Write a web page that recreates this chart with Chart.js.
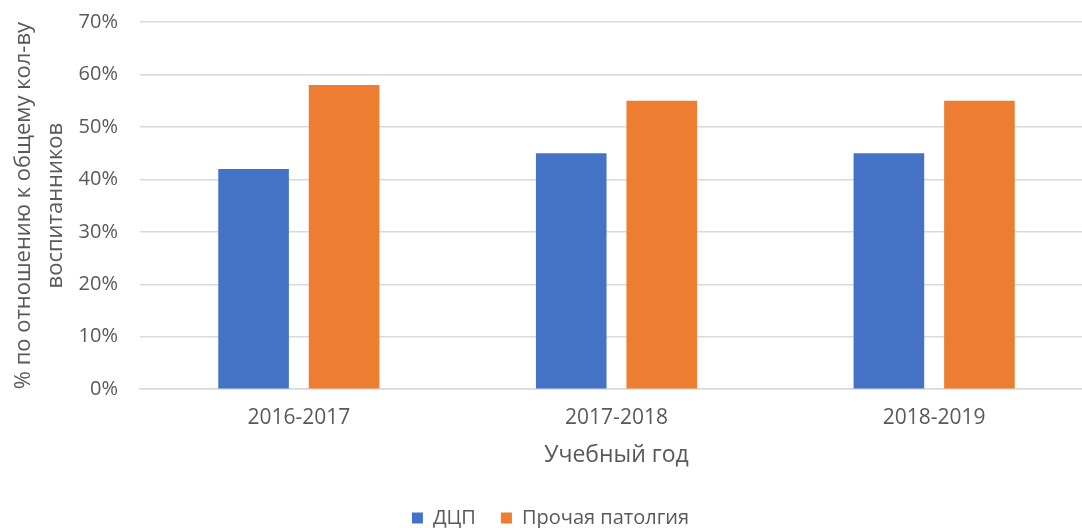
<!DOCTYPE html>
<html>
<head>
<meta charset="utf-8">
<script src="https://cdn.jsdelivr.net/npm/chart.js@4"></script>
<style>
  html, body { margin: 0; padding: 0; background: #fff; overflow: hidden; }
  #wrap { width: 1082px; height: 528px; overflow: hidden; }
</style>
</head>
<body>
<!-- the plot runs a little past the right edge, like in the original -->
<div id="wrap"><canvas id="chart" width="1093" height="528"></canvas></div>
<script>
// data
const years = ['2016-2017', '2017-2018', '2018-2019'];
const dcpValues = [42, 45, 45];
const otherValues = [58, 55, 55];
const yTicks = [0, 10, 20, 30, 40, 50, 60, 70];

const textColor = '#595959';
const fontFamily = '"Open Sans", "Noto Sans", sans-serif';

Chart.defaults.font.family = fontFamily;
Chart.defaults.color = textColor;

const ctx = document.getElementById('chart').getContext('2d');
const chart = new Chart(ctx, {
    type: 'bar',
    data: {
        labels: years,
        datasets: [
            { label: 'ДЦП', data: dcpValues, backgroundColor: '#4472c4' },
            { label: 'Прочая патолгия', data: otherValues, backgroundColor: '#ed7d31' }
        ]
    },
    options: {
        responsive: false,
        animation: false,
        categoryPercentage: 0.57,
        barPercentage: 0.78,
        layout: { padding: { left: 8, right: 0, top: 0, bottom: -10 } },
        plugins: {
            legend: {
                position: 'bottom',
                labels: {
                    boxWidth: 11,
                    boxHeight: 11,
                    padding: 25,
                    font: { size: 20 },
                    color: textColor
                }
            },
            tooltip: { enabled: false }
        },
        scales: {
            x: {
                afterFit: (axis) => {
                    axis.paddingLeft = 0;
                    axis.paddingRight = 0;
                },
                grid: { display: false, drawTicks: false },
                border: { color: '#d9d9d9', width: 1.5 },
                ticks: { font: { size: 21 }, padding: 16 },
                title: {
                    display: true,
                    text: 'Учебный год',
                    font: { size: 23 },
                    padding: { top: -5, bottom: 14 }
                }
            },
            y: {
                min: 0,
                max: 70,
                afterBuildTicks: (axis) => {
                    axis.ticks = yTicks.map(v => ({ value: v }));
                },
                afterFit: (axis) => {
                    // keep the plot edges where the original has them
                    axis.width = 132;
                    axis.paddingTop = 22;
                    axis.paddingBottom = 0;
                },
                grid: { color: '#d9d9d9', lineWidth: 1.5, drawTicks: false },
                border: { display: false },
                ticks: {
                    font: { size: 20 },
                    padding: 22,
                    callback: (v) => v + '%'
                },
                title: {
                    display: true,
                    text: ['% по отношению к общему кол-ву', 'воспитанников'],
                    font: { size: 22, lineHeight: 1.45 },
                    padding: { top: 0, bottom: 0 }
                }
            }
        }
    }
});
</script>
</body>
</html>
